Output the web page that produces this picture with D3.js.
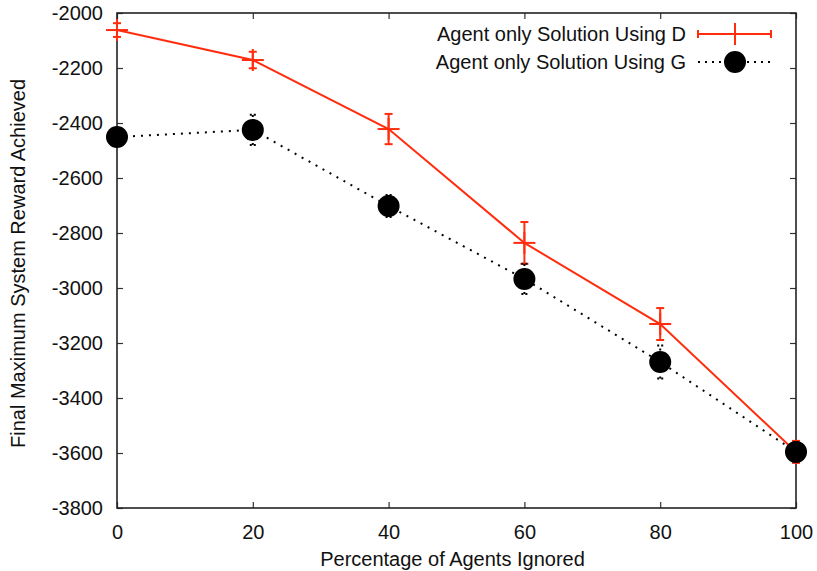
<!DOCTYPE html>
<html>
<head>
<meta charset="utf-8">
<script src="https://cdn.jsdelivr.net/npm/d3@7"></script>
<style>
  body { margin: 0; background: #fff; }
  text { font-family: "Liberation Sans", Arial, sans-serif; }
</style>
</head>
<body>
<svg id="chart" width="817" height="571"></svg>
<script>
// data
var percentIgnored = [0, 20, 40, 60, 80, 100];
var rewardD = [-2062, -2171, -2422, -2836, -3131, -3596];
var errD = [25, 30, 55, 76, 58, 40];
var rewardG = [-2451, -2425, -2702, -2967, -3269, -3596];
var errG = [15, 55, 40, 55, 60, 35];
var xTicks = [0, 20, 40, 60, 80, 100];
var yTicks = [-2000, -2200, -2400, -2600, -2800, -3000, -3200, -3400, -3600, -3800];
var seriesNames = ["Agent only Solution Using D", "Agent only Solution Using G"];

var margin = {top: 13, right: 21, bottom: 63, left: 117};
var width = 817 - margin.left - margin.right;
var height = 571 - margin.top - margin.bottom;
var red = "#ff2d0e";
var fontSize = 20;

var svg = d3.select("#chart");
var chartGroup = svg.append("g")
  .attr("transform", `translate(${margin.left}, ${margin.top})`);

var xLinearScale = d3.scaleLinear().domain([0, 100]).range([0, width]);
var yLinearScale = d3.scaleLinear().domain([-3800, -2000]).range([height, 0]);

// axes, gnuplot style: inward ticks mirrored on all sides
function styleAxis(g) {
  g.select(".domain").remove();
  g.selectAll(".tick line").attr("stroke", "#333").attr("stroke-width", 1.2);
  g.selectAll(".tick text").attr("font-size", fontSize).attr("fill", "#111");
}

chartGroup.append("g")
  .attr("transform", `translate(0, ${height})`)
  .call(d3.axisBottom(xLinearScale).tickValues(xTicks).tickSize(-6).tickPadding(17).tickFormat(d => String(d)))
  .call(styleAxis);

chartGroup.append("g")
  .call(d3.axisTop(xLinearScale).tickValues(xTicks).tickSize(-6).tickFormat(""))
  .call(styleAxis);

chartGroup.append("g")
  .call(d3.axisLeft(yLinearScale).tickValues(yTicks).tickSize(-6).tickPadding(14).tickFormat(d => String(d)))
  .call(styleAxis);

chartGroup.append("g")
  .attr("transform", `translate(${width}, 0)`)
  .call(d3.axisRight(yLinearScale).tickValues(yTicks).tickSize(-6).tickFormat(""))
  .call(styleAxis);

chartGroup.append("rect")
  .attr("width", width)
  .attr("height", height)
  .attr("fill", "none")
  .attr("stroke", "#222")
  .attr("stroke-width", 1.6);

// axis labels
chartGroup.append("text")
  .attr("x", width / 2 - 4)
  .attr("y", height + 58)
  .attr("text-anchor", "middle")
  .attr("font-size", fontSize)
  .attr("fill", "#111")
  .text("Percentage of Agents Ignored");

chartGroup.append("text")
  .attr("transform", "rotate(-90)")
  .attr("x", -height / 2 - 3)
  .attr("y", 25 - margin.left)
  .attr("text-anchor", "middle")
  .attr("font-size", fontSize)
  .attr("fill", "#111")
  .text("Final Maximum System Reward Achieved");

var dataD = percentIgnored.map((p, i) => ({x: p, y: rewardD[i], e: errD[i]}));
var dataG = percentIgnored.map((p, i) => ({x: p, y: rewardG[i], e: errG[i]}));

var line = d3.line()
  .x(d => xLinearScale(d.x))
  .y(d => yLinearScale(d.y));

// series D: solid red line with crosses
chartGroup.append("path")
  .datum(dataD)
  .attr("d", line)
  .attr("fill", "none")
  .attr("stroke", red)
  .attr("stroke-width", 2);

var errGroupD = chartGroup.selectAll(".errD")
  .data(dataD)
  .enter()
  .append("g")
  .attr("stroke", red)
  .attr("stroke-width", 2);

errGroupD.append("line")
  .attr("x1", d => xLinearScale(d.x))
  .attr("x2", d => xLinearScale(d.x))
  .attr("y1", d => yLinearScale(d.y - d.e))
  .attr("y2", d => yLinearScale(d.y + d.e));

[1, -1].forEach(function(s) {
  errGroupD.append("line")
    .attr("x1", d => xLinearScale(d.x) - 4)
    .attr("x2", d => xLinearScale(d.x) + 4)
    .attr("y1", d => yLinearScale(d.y + s * d.e))
    .attr("y2", d => yLinearScale(d.y + s * d.e));
});

// plus marker
errGroupD.append("line")
  .attr("x1", d => xLinearScale(d.x) - 11)
  .attr("x2", d => xLinearScale(d.x) + 11)
  .attr("y1", d => yLinearScale(d.y))
  .attr("y2", d => yLinearScale(d.y));
errGroupD.append("line")
  .attr("x1", d => xLinearScale(d.x))
  .attr("x2", d => xLinearScale(d.x))
  .attr("y1", d => yLinearScale(d.y) - 11)
  .attr("y2", d => yLinearScale(d.y) + 11);

// series G: dotted line, black circles
chartGroup.append("path")
  .datum(dataG)
  .attr("d", line)
  .attr("fill", "none")
  .attr("stroke", "#000")
  .attr("stroke-width", 2)
  .attr("stroke-dasharray", "2,6");

var errGroupG = chartGroup.selectAll(".errG")
  .data(dataG)
  .enter()
  .append("g");

errGroupG.append("line")
  .attr("x1", d => xLinearScale(d.x))
  .attr("x2", d => xLinearScale(d.x))
  .attr("y1", d => yLinearScale(d.y - d.e))
  .attr("y2", d => yLinearScale(d.y + d.e))
  .attr("stroke", "#000")
  .attr("stroke-width", 2)
  .attr("stroke-dasharray", "2,5");

[1, -1].forEach(function(s) {
  errGroupG.append("line")
    .attr("x1", d => xLinearScale(d.x) - 3)
    .attr("x2", d => xLinearScale(d.x) + 3)
    .attr("y1", d => yLinearScale(d.y + s * d.e))
    .attr("y2", d => yLinearScale(d.y + s * d.e))
    .attr("stroke", "#000")
    .attr("stroke-width", 2)
    .attr("stroke-dasharray", "2,2");
});

chartGroup.selectAll(".dotG")
  .data(dataG)
  .enter()
  .append("circle")
  .attr("cx", d => xLinearScale(d.x))
  .attr("cy", d => yLinearScale(d.y))
  .attr("r", 11)
  .attr("fill", "#000");

// legend
var legend = svg.append("g");
var legendRows = [34, 62];
var sx1 = 698, sx2 = 771, sxm = 735;

legend.selectAll("text")
  .data(seriesNames)
  .enter()
  .append("text")
  .attr("x", 686)
  .attr("y", (d, i) => legendRows[i] + 7)
  .attr("text-anchor", "end")
  .attr("font-size", fontSize)
  .attr("fill", "#111")
  .text(d => d);

var legD = legend.append("g").attr("stroke", red).attr("stroke-width", 2);
legD.append("line").attr("x1", sx1).attr("x2", sx2).attr("y1", legendRows[0]).attr("y2", legendRows[0]);
legD.append("line").attr("x1", sx1).attr("x2", sx1).attr("y1", legendRows[0] - 4).attr("y2", legendRows[0] + 4);
legD.append("line").attr("x1", sx2).attr("x2", sx2).attr("y1", legendRows[0] - 4).attr("y2", legendRows[0] + 4);
legD.append("line").attr("x1", sxm).attr("x2", sxm).attr("y1", legendRows[0] - 11).attr("y2", legendRows[0] + 11);

legend.append("line")
  .attr("x1", sx1).attr("x2", sx2)
  .attr("y1", legendRows[1]).attr("y2", legendRows[1])
  .attr("stroke", "#000")
  .attr("stroke-width", 2)
  .attr("stroke-dasharray", "2,5");
legend.append("circle")
  .attr("cx", sxm)
  .attr("cy", legendRows[1])
  .attr("r", 11)
  .attr("fill", "#000");
</script>
</body>
</html>
